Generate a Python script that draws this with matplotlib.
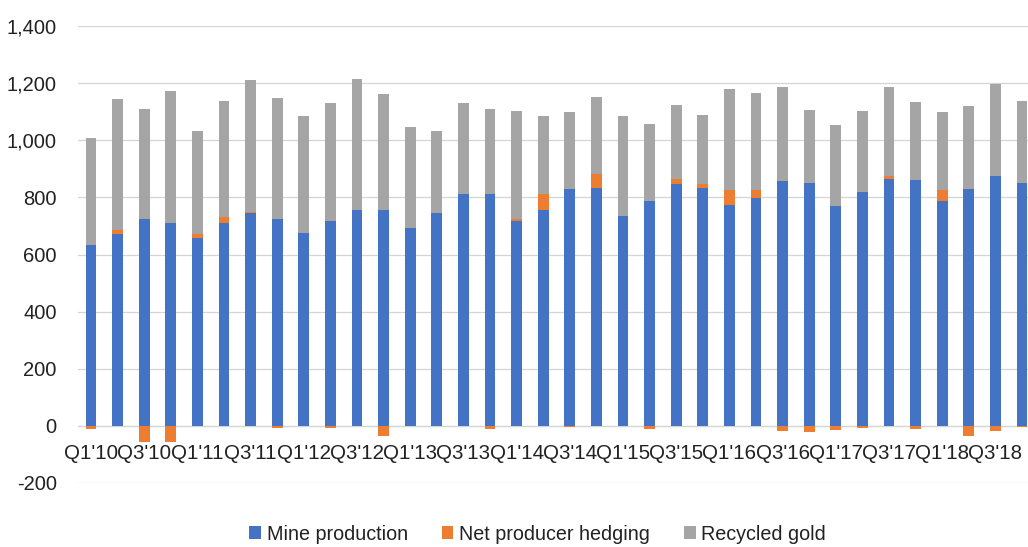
import numpy as np
import matplotlib.pyplot as plt

plt.rcParams['font.family'] = ['Liberation Sans', 'DejaVu Sans']

# quarterly gold supply, tonnes
quarters = [f"Q{q}'{y}" for y in range(10, 19) for q in range(1, 5)]
mine = [632, 672, 725, 712, 658, 712, 744, 725, 676, 716,
        756, 756, 693, 744, 811, 811, 716, 756, 829, 833,
        735, 788, 846, 833, 775, 797, 856, 851, 770, 819,
        865, 860, 788, 829, 874, 851]
hedging = [-12, 14, -55, -55, 14, 18, 5, -7, 0, -6,
           0, -37, 0, 0, 0, -12, 9, 55, -5, 49,
           0, -12, 19, 14, 50, 28, -19, -23, -13, -6,
           9, -12, 37, -37, -19, -5]
recycled = [375, 457, 386, 462, 359, 408, 461, 422, 408, 414,
            459, 405, 355, 287, 319, 300, 377, 273, 269, 270,
            349, 270, 260, 242, 354, 340, 331, 256, 283, 283,
            313, 273, 273, 292, 324, 287]

c_mine = '#4472C4'
c_hedge = '#ED7D31'
c_recyc = '#A5A5A5'

x = np.arange(len(quarters))
mine = np.array(mine)
hedging = np.array(hedging)
recycled = np.array(recycled)
hedge_pos = np.clip(hedging, 0, None)
top = mine + hedge_pos

fig = plt.figure(figsize=(10.28, 5.47), dpi=100)
ax = fig.add_axes([77.7 / 1028, 64 / 547, 957.6 / 1028, 457 / 547])

w = 0.4
ax.bar(x, mine, w, color=c_mine, label='Mine production', zorder=3)
ax.bar(x, hedging, w, bottom=np.where(hedging > 0, mine, 0), color=c_hedge,
       label='Net producer hedging', zorder=3)
ax.bar(x, recycled, w, bottom=top, color=c_recyc, label='Recycled gold', zorder=3)

ax.set_xlim(-0.5, len(quarters) - 0.5)
ax.set_ylim(-200, 1400)
ax.set_yticks(range(-200, 1401, 200))
ax.yaxis.set_major_formatter(plt.FuncFormatter(lambda v, p: f'{int(v):,}'))
ax.grid(axis='y', color='#D4D4D4', lw=0.9, zorder=0)

ax.set_xticks(x[::2])
ax.set_xticklabels(quarters[::2])
for s in ['top', 'right', 'left']:
    ax.spines[s].set_visible(False)
ax.spines['bottom'].set_position(('data', 0))
ax.spines['bottom'].set_color('#D4D4D4')
ax.tick_params(axis='x', length=0, pad=13, labelsize=14.8, labelcolor='#222222')
ax.tick_params(axis='y', length=0, pad=15, labelsize=14.5, labelcolor='#222222')

fig.legend(loc='center', bbox_to_anchor=(0.523, 13 / 547), ncol=3, frameon=False,
           fontsize=14.2, handlelength=0.6, handleheight=0.6, handletextpad=0.3,
           columnspacing=1.7, labelcolor='#222222')

fig.savefig('out.png', dpi=100)
